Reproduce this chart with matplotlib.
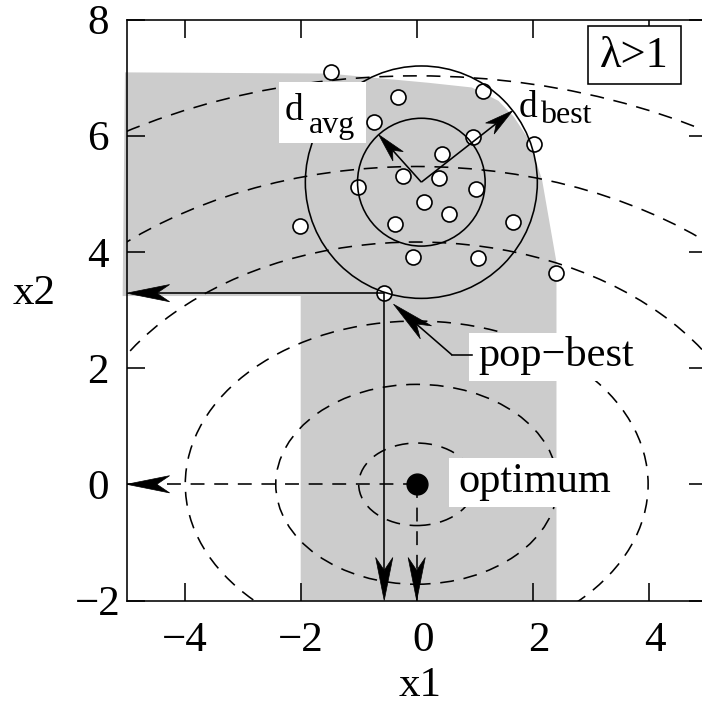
import numpy as np
import matplotlib
matplotlib.use("Agg")
import matplotlib.pyplot as plt
from matplotlib.patches import Polygon, Circle, Ellipse, Rectangle
from matplotlib.transforms import ScaledTranslation

plt.rcParams['font.family'] = ['Liberation Serif', 'DejaVu Serif']
plt.rcParams['lines.scale_dashes'] = False

# ---- data -------------------------------------------------------------
x_ticks = [-4, -2, 0, 2, 4]
y_ticks = [-2, 0, 2, 4, 6, 8]

optimum_x, optimum_y = 0.0, 0.0
# semi-axes of the contour ellipses around the optimum
contour_a = [1.00, 2.43, 3.99, 5.92, 7.73, 9.94]
contour_b = [0.71, 1.72, 2.81, 4.17, 5.47, 7.03]

# population members
pop_x = [-1.48, -0.32, -0.74, 1.15, 0.97, 2.02, 0.44, -0.23, 0.38, -1.01,
         1.03, 0.13, -2.02, -0.37, 0.55, 1.66, -0.06, 1.06, 2.40]
pop_y = [7.10, 6.66, 6.24, 6.77, 5.98, 5.85, 5.68, 5.31, 5.27, 5.11,
         5.08, 4.86, 4.45, 4.48, 4.66, 4.51, 3.91, 3.89, 3.64]
best_x, best_y = -0.56, 3.29

# population centre and the two distance circles
center_x, center_y = 0.08, 5.20
r_avg, r_best = 1.10, 2.00
avg_angle, best_angle = 132.0, 38.0  # directions of the d_avg / d_best arrows (deg)

# outline of the shaded region
region_x = [-5.03, -1.52, 0.21, 0.95, 1.41, 1.67, 1.93, 2.16, 2.41, 2.41,
            -2.00, -2.00, -5.07]
region_y = [7.09, 7.07, 6.91, 6.83, 6.60, 6.33, 5.94, 5.25, 3.82, -2.00,
            -2.00, 3.24, 3.24]

xlim = (-5, 5)
ylim = (-2, 8)

# ---- figure -----------------------------------------------------------
DPI = 100
fig = plt.figure(figsize=(7.02, 7.11), dpi=DPI)
ax = fig.add_axes([126.7 / 702, 110.5 / 711, 580 / 702, 581 / 711])
ax.set_xlim(*xlim)
ax.set_ylim(*ylim)

LW = 1.15
DASH = (0, (10, 7))
GRAY = '#cccccc'

ax.add_patch(Polygon(np.column_stack([region_x, region_y]), closed=True,
                     facecolor=GRAY, edgecolor='none', zorder=0.5, clip_on=False))

for a, b in zip(contour_a, contour_b):
    ax.add_patch(Ellipse((optimum_x, optimum_y), 2 * a, 2 * b, fill=False,
                         edgecolor='black', lw=LW, linestyle=DASH, zorder=1))


def arrow(x0, y0, x1, y1, head_len=0.74, head_w=0.148, notch=0.22,
          ls='-', z=3):
    """Shaft from (x0, y0) to (x1, y1) with a notched, filled head at the end."""
    d = np.array([x1 - x0, y1 - y0], dtype=float)
    L = np.hypot(*d)
    u = d / L
    n = np.array([-u[1], u[0]])
    tip = np.array([x1, y1])
    back = tip - u * head_len
    notch_pt = tip - u * (head_len - notch)
    ax.plot([x0, notch_pt[0]], [y0, notch_pt[1]], color='black', lw=LW,
            linestyle=ls, zorder=z, solid_capstyle='butt')
    head = np.array([tip, back + n * head_w, notch_pt, back - n * head_w])
    ax.add_patch(Polygon(head, closed=True, facecolor='black',
                         edgecolor='black', lw=0.5, zorder=z))


# projections of the optimum onto the axes (dashed)
arrow(optimum_x, optimum_y, xlim[0], optimum_y, ls=DASH)
arrow(optimum_x, optimum_y, optimum_x, ylim[0], ls=DASH)
# projections of the population best onto the axes
arrow(best_x, best_y, xlim[0], best_y)
arrow(best_x, best_y, best_x, ylim[0])

# population
ax.plot(pop_x + [best_x], pop_y + [best_y], 'o', ms=10.8, mfc='white',
        mec='black', mew=1.2, zorder=2)

# distance circles
for r in (r_avg, r_best):
    ax.add_patch(Circle((center_x, center_y), r, fill=False, edgecolor='black',
                        lw=LW, zorder=3))
for r, ang in ((r_avg, avg_angle), (r_best, best_angle)):
    t = np.deg2rad(ang)
    arrow(center_x, center_y, center_x + r * np.cos(t), center_y + r * np.sin(t),
          head_len=0.5, head_w=0.12, notch=0.14)

# optimum
ax.plot([optimum_x], [optimum_y], 'o', ms=15, color='black', zorder=4)


# ---- labels -----------------------------------------------------------
def white_box(x0, y0, x1, y1):
    ax.add_patch(Rectangle((x0, y0), x1 - x0, y1 - y0, facecolor='white',
                           edgecolor='none', zorder=4))


white_box(-2.38, 5.88, -0.88, 6.93)
ax.text(-2.27, 6.27, 'd', fontsize=27, ha='left', va='baseline', zorder=5)
ax.text(-1.86, 6.05, 'avg', fontsize=23, ha='left', va='baseline', zorder=5)

ax.text(1.76, 6.33, 'd', fontsize=27, ha='left', va='baseline', zorder=5)
ax.text(2.13, 6.21, 'best', fontsize=23, ha='left', va='baseline', zorder=5)

white_box(0.91, 1.78, 3.95, 2.61)
ax.text(1.06, 2.04, 'pop\u2212best', fontsize=30.5, ha='left', va='baseline', zorder=5)
ax.plot([0.95, 0.61], [2.225, 2.225], color='black', lw=LW, zorder=5)
arrow(0.61, 2.225, -0.40, 3.10, z=5)

white_box(0.55, -0.39, 3.45, 0.45)
ax.text(0.71, -0.14, 'optimum', fontsize=30.5, ha='left', va='baseline', zorder=5)

ax.add_patch(Rectangle((2.95, 6.89), 1.60, 0.99, facecolor='white',
                       edgecolor='black', lw=LW, zorder=4))
ax.text(3.75, 7.37, '\u03bb>1', fontsize=32, ha='center', va='center', zorder=5)

# ---- axes styling ------------------------------------------------------
ax.set_xticks(x_ticks)
ax.set_yticks(y_ticks)
ax.set_xticklabels([f'{v}'.replace('-', '\u2212') for v in x_ticks])
ax.set_yticklabels([f'{v}'.replace('-', '\u2212') for v in y_ticks])
ax.tick_params(direction='in', length=13, width=LW, top=True, right=True,
               labelsize=31, colors='black')
ax.tick_params(axis='x', pad=15)
ax.tick_params(axis='y', pad=13)
for s in ax.spines.values():
    s.set_linewidth(LW)

# nudge individual tick labels
for lbl, v in zip(ax.get_xticklabels(), x_ticks):
    if v >= 0:
        lbl.set_transform(lbl.get_transform() + ScaledTranslation(6 / DPI, 0, fig.dpi_scale_trans))
ylbl = ax.get_yticklabels()[0]
ylbl.set_transform(ylbl.get_transform() + ScaledTranslation(12 / DPI, 0, fig.dpi_scale_trans))

fig.text(420 / 702, 1 - 686 / 711, 'x1', fontsize=31, ha='center', va='center')
fig.text(34 / 702, 1 - 294 / 711, 'x2', fontsize=31, ha='center', va='center')

fig.savefig('out.png', dpi=DPI)
